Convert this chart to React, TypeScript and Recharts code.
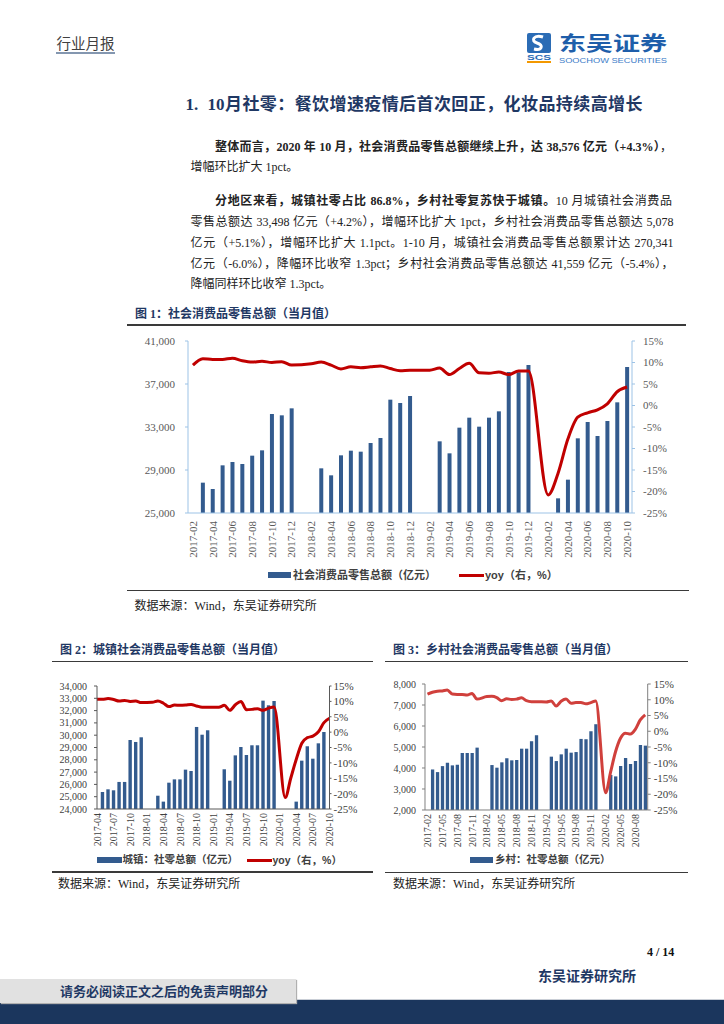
import React from "react";
import { ComposedChart, Bar, Line, XAxis, YAxis } from "recharts";

// ---------- data ----------
const months = [
  "2017-02","2017-03","2017-04","2017-05","2017-06","2017-07","2017-08","2017-09","2017-10","2017-11","2017-12",
  "2018-01","2018-02","2018-03","2018-04","2018-05","2018-06","2018-07","2018-08","2018-09","2018-10","2018-11","2018-12",
  "2019-01","2019-02","2019-03","2019-04","2019-05","2019-06","2019-07","2019-08","2019-09","2019-10","2019-11","2019-12",
  "2020-01","2020-02","2020-03","2020-04","2020-05","2020-06","2020-07","2020-08","2020-09","2020-10",
];
const retailTotal = [
  null, 27822, 27233, 29434, 29744, 29558, 30333, 30829, 34209, 34085, 34736,
  null, null, 29155, 28504, 30364, 30798, 30705, 31512, 31977, 35543, 35233, 35884,
  null, null, 31667, 30550, 32938, 33868, 33031, 33868, 34457, 38116, 38094, 38767,
  null, null, 26364, 28101, 31946, 33465, 32163, 33558, 35295, 38581,
];
const retailYoy = [
  9.4, 10.9, 10.7, 10.7, 11.0, 10.4, 10.1, 10.3, 10.0, 10.2, 9.4,
  null, 9.7, 10.1, 9.4, 8.5, 9.0, 8.8, 9.0, 9.2, 8.6, 8.1, 8.2,
  null, 8.2, 8.7, 7.2, 8.6, 9.8, 7.6, 7.5, 7.8, 7.2, 8.0, 8.0,
  null, -20.8, -15.8, -7.8, -2.7, -1.7, -1.0, 0.4, 3.2, 4.3,
];

const urbanMonths = [
  "2017-04","2017-05","2017-06","2017-07","2017-08","2017-09","2017-10","2017-11","2017-12",
  "2018-01","2018-02","2018-03","2018-04","2018-05","2018-06","2018-07","2018-08","2018-09","2018-10","2018-11","2018-12",
  "2019-01","2019-02","2019-03","2019-04","2019-05","2019-06","2019-07","2019-08","2019-09","2019-10","2019-11","2019-12",
  "2020-01","2020-02","2020-03","2020-04","2020-05","2020-06","2020-07","2020-08","2020-09","2020-10",
];
const urbanTotal = [
  null, 25380, 25600, 25520, 26200, 26200, 29610, 29450, 29830,
  null, null, 25080, 24600, 26140, 26410, 26410, 27200, 27090, 30670, 30040, 30400,
  null, null, 27230, 26300, 28360, 29040, 28390, 29180, 29180, 32810, 32430, 32780,
  null, null, null, 24600, 27930, 29100, 28090, 29340, 30260, null,
];
const urbanYoy = [
  10.7, 10.7, 10.9, 10.6, 10.1, 10.3, 10.0, 10.1, 9.6,
  null, 9.7, 10.1, 9.4, 8.3, 8.8, 8.7, 8.8, 9.0, 8.5, 8.1, 8.1,
  null, 8.1, 8.7, 7.1, 8.9, 10.0, 7.3, 7.4, 7.6, 7.1, 7.8, 8.2,
  null, -21.3, -15.0, -8.8, -3.6, -1.8, -1.3, 0.1, 3.1, 4.5,
];
const urbanTickIdx = [0, 3, 6, 9, 12, 15, 18, 21, 24, 27, 30, 33, 36, 39, 42];

const ruralTotal = [
  null, 3930, 3805, 4090, 4250, 4125, 4155, 4715, 4715, 4715, 4970,
  null, null, 4140, 4015, 4270, 4460, 4365, 4380, 4920, 4920, 5275, 5560,
  null, null, 4540, 4330, 4650, 4920, 4730, 4760, 5385, 5370, 5750, 6085,
  null, null, 3670, 3600, 4095, 4475, 4190, 4330, 5095, 5065,
];
const ruralYoy = [
  11.8, 12.4, 12.7, 12.8, 13.1, 11.8, 11.7, 11.7, 11.5, 12.0, 10.2,
  null, 11.0, 11.1, 10.7, 9.7, 10.3, 10.1, 10.2, 10.6, 9.7, 9.4, 9.4,
  null, 9.3, 9.6, 8.0, 9.5, 10.2, 8.9, 9.1, 9.1, 8.7, 9.1, 9.6,
  null, -19.5, -13.0, -6.5, -2.2, -0.6, -0.9, 0.6, 3.6, 5.2,
];

const retailLeftTicks = [25000, 29000, 33000, 37000, 41000];
const urbanLeftTicks = [24000, 25000, 26000, 27000, 28000, 29000, 30000, 31000, 32000, 33000, 34000];
const ruralLeftTicks = [2000, 3000, 4000, 5000, 6000, 7000, 8000];
const yoyTicks = [-25, -20, -15, -10, -5, 0, 5, 10, 15];

const retailData = months.map((m, i) => ({ m, v: retailTotal[i], y: retailYoy[i] }));
const urbanData = urbanMonths.map((m, i) => ({ idx: i, m, v: urbanTotal[i], y: urbanYoy[i] }));
const ruralData = months.map((m, i) => ({ m, v: ruralTotal[i], y: ruralYoy[i] }));

// ---------- styles ----------
const SERIF = "'Liberation Serif','Times New Roman','Noto Sans CJK SC',serif";
const CJK = "'Liberation Serif','Noto Sans CJK SC',sans-serif";
const SANS = "'Liberation Sans','Noto Sans CJK SC',sans-serif";
const NAVY = "#1F3864";
const BAR = "#335B8E";
const RED = "#C00000";
const RED3 = "#D0403C";
const fmtK = (v: number) => v.toLocaleString("en-US");
const fmtP = (v: number) => `${v}%`;

function RotTick(props: any) {
  const { x, y, payload, fontSize, fill, fmt } = props;
  const label = fmt ? fmt(payload.value) : payload.value;
  return (
    <text
      x={x}
      y={y}
      dy="0.35em"
      textAnchor="end"
      transform={`rotate(-90 ${x} ${y})`}
      fontFamily={SERIF}
      fontSize={fontSize}
      fill={fill}
    >
      {label}
    </text>
  );
}

function Abs({ left, top, children, style }: any) {
  return <div style={{ position: "absolute", left, top, ...style }}>{children}</div>;
}

function TLine({ cy, left, width, size = 12, justify = false, children, color = "#222", weight = 400, font = CJK }: any) {
  return (
    <div
      style={{
        position: "absolute",
        left,
        top: cy - size * 0.75,
        width,
        fontSize: size,
        lineHeight: `${size * 1.5}px`,
        whiteSpace: "nowrap",
        textAlign: justify ? "justify" : "left",
        textAlignLast: justify ? "justify" : "left",
        fontFamily: font,
        color,
        fontWeight: weight,
      } as any}
    >
      {children}
    </div>
  );
}

function Rule({ x1, x2, y, h = 1.5, color = "#3A3A3A" }: any) {
  return <div style={{ position: "absolute", left: x1, top: y - h / 2, width: x2 - x1, height: h, background: color }} />;
}

function LegendBar({ x1, x2, cy, h = 6, color = BAR }: any) {
  return <div style={{ position: "absolute", left: x1, top: cy - h / 2, width: x2 - x1, height: h, background: color }} />;
}

// ---------- charts ----------
function Chart1() {
  const tickStyle = { fontFamily: SERIF, fontSize: 11, fill: "#595959" };
  const ax = "#9DC3E6";
  return (
    <Abs left={120} top={330}>
      <ComposedChart width={562} height={233} data={retailData} margin={{ top: 11, right: 0, bottom: 0, left: 0 }}>
        <XAxis
          dataKey="m"
          interval={1}
          height={50}
          tickSize={0}
          tickMargin={8}
          axisLine={{ stroke: ax }}
          tickLine={false}
          tick={(p: any) => <RotTick {...p} fontSize={11} fill="#595959" />}
        />
        <YAxis
          yAxisId="l"
          width={68}
          domain={[25000, 41000]}
          ticks={retailLeftTicks}
          interval={0}
          tickFormatter={fmtK}
          axisLine={{ stroke: ax }}
          tickLine={{ stroke: ax }}
          tickSize={3}
          tickMargin={10}
          tick={tickStyle}
        />
        <YAxis
          yAxisId="r"
          orientation="right"
          width={50}
          domain={[-25, 15]}
          ticks={yoyTicks}
          interval={0}
          tickFormatter={fmtP}
          axisLine={{ stroke: ax }}
          tickLine={{ stroke: ax }}
          tickSize={3}
          tickMargin={8}
          tick={tickStyle}
        />
        <Bar yAxisId="l" dataKey="v" fill={BAR} barSize={4} isAnimationActive={false} />
        <Line yAxisId="r" dataKey="y" type="monotone" stroke={RED} strokeWidth={3} dot={false} connectNulls isAnimationActive={false} />
      </ComposedChart>
    </Abs>
  );
}

function Chart2() {
  const tickStyle = { fontFamily: SERIF, fontSize: 10, fill: "#404040" };
  const ax = "#595959";
  return (
    <Abs left={50} top={675}>
      <ComposedChart width={320} height={179} data={urbanData} margin={{ top: 11, right: 0, bottom: 0, left: 0 }}>
        <XAxis
          dataKey="idx"
          type="number"
          domain={[0, 42]}
          ticks={urbanTickIdx}
          interval={0}
          height={45}
          tickSize={0}
          tickMargin={4}
          axisLine={{ stroke: ax }}
          tickLine={false}
          tick={(p: any) => <RotTick {...p} fontSize={10} fill="#404040" fmt={(v: number) => urbanMonths[v]} />}
        />
        <YAxis
          yAxisId="l"
          width={47}
          domain={[24000, 34000]}
          ticks={urbanLeftTicks}
          interval={0}
          tickFormatter={fmtK}
          axisLine={{ stroke: ax }}
          tickLine={{ stroke: ax }}
          tickSize={3}
          tickMargin={7}
          tick={tickStyle}
        />
        <YAxis
          yAxisId="r"
          orientation="right"
          width={40.5}
          domain={[-25, 15]}
          ticks={yoyTicks}
          interval={0}
          tickFormatter={fmtP}
          axisLine={{ stroke: ax }}
          tickLine={{ stroke: ax }}
          tickSize={2}
          tickMargin={2}
          tick={{ ...tickStyle, fontSize: 11 }}
        />
        <Bar yAxisId="l" dataKey="v" fill={BAR} barSize={3.4} isAnimationActive={false} />
        <Line yAxisId="r" dataKey="y" type="monotone" stroke={RED} strokeWidth={3} dot={false} connectNulls isAnimationActive={false} />
      </ComposedChart>
    </Abs>
  );
}

function Chart3() {
  const tickStyle = { fontFamily: SERIF, fontSize: 10, fill: "#404040" };
  const ax = "#7F7F7F";
  return (
    <Abs left={380} top={674}>
      <ComposedChart width={317.7} height={181} data={ruralData} margin={{ top: 10, right: 0, bottom: 0, left: 0 }}>
        <XAxis
          dataKey="m"
          interval={2}
          height={45}
          tickSize={0}
          tickMargin={4}
          axisLine={{ stroke: ax }}
          tickLine={false}
          tick={(p: any) => <RotTick {...p} fontSize={10} fill="#404040" />}
        />
        <YAxis
          yAxisId="l"
          width={45}
          domain={[2000, 8000]}
          ticks={ruralLeftTicks}
          interval={0}
          tickFormatter={fmtK}
          axisLine={{ stroke: ax }}
          tickLine={{ stroke: ax }}
          tickSize={3}
          tickMargin={6}
          tick={tickStyle}
        />
        <YAxis
          yAxisId="r"
          orientation="right"
          width={50}
          domain={[-25, 15]}
          ticks={yoyTicks}
          interval={0}
          tickFormatter={fmtP}
          axisLine={{ stroke: ax }}
          tickLine={{ stroke: ax }}
          tickSize={3}
          tickMargin={3}
          tick={{ ...tickStyle, fontSize: 11 }}
        />
        <Bar yAxisId="l" dataKey="v" fill={BAR} barSize={3.3} isAnimationActive={false} />
        <Line yAxisId="r" dataKey="y" type="monotone" stroke={RED3} strokeWidth={3} dot={false} connectNulls isAnimationActive={false} />
      </ComposedChart>
    </Abs>
  );
}

function Logo() {
  return (
    <svg style={{ position: "absolute", left: 524, top: 28 }} width={150} height={40}>
      <rect x={3} y={5} width={24} height={20} rx={2} fill="#2B6CB5" />
      <path d="M19 9 C 10 6, 6 13, 13 15 C 20 17, 18 23, 10 21" stroke="#fff" strokeWidth={3} fill="none" />
      <text x={15} y={31.5} textAnchor="middle" fontFamily={SANS} fontWeight={700} fontSize={7} fill="#2B6CB5" textLength={24} lengthAdjust="spacingAndGlyphs">SCS</text>
      <rect x={3} y={33} width={24} height={2} fill="#F39800" />
      <text x={35} y={22.5} fontFamily={SANS} fontWeight={700} fontSize={20} fill="#1E5EAA" textLength={108} lengthAdjust="spacingAndGlyphs">东吴证券</text>
      <text x={35} y={34.5} fontFamily={SANS} fontSize={8} fill="#3B7BC8" textLength={108} lengthAdjust="spacingAndGlyphs">SOOCHOW SECURITIES</text>
    </svg>
  );
}

export default function App() {
  const legendText = { fontFamily: CJK, fontWeight: 700, color: "#404040", whiteSpace: "nowrap" } as any;
  return (
    <div style={{ position: "absolute", left: 0, top: 0, width: 724, height: 1024, background: "#fff", overflow: "hidden" }}>
      {/* header */}
      <TLine cy={45} left={56.6} size={14.5} color="#404040">行业月报</TLine>
      <Rule x1={56} x2={115} y={52.5} h={2} color="#8497B0" />
      <Logo />

      {/* section title */}
      <TLine cy={105} left={185.5} width={457} size={17} justify color={NAVY} weight={700}>
        1.&nbsp;&nbsp;10月社零：餐饮增速疫情后首次回正，化妆品持续高增长
      </TLine>

      {/* paragraph 1 */}
      <TLine cy={146.7} left={215} width={457} size={12} justify>
        <b>整体而言，2020 年 10 月，社会消费品零售总额继续上升，达 38,576 亿元（+4.3%）</b>，
      </TLine>
      <TLine cy={166.5} left={190.6} size={12}>增幅环比扩大 1pct。</TLine>

      {/* paragraph 2 */}
      <TLine cy={201.3} left={215} width={457} size={12} justify>
        <b>分地区来看，城镇社零占比 86.8%，乡村社零复苏快于城镇。</b>10 月城镇社会消费品
      </TLine>
      <TLine cy={222.3} left={190.6} width={483} size={12} justify>
        零售总额达 33,498 亿元（+4.2%），增幅环比扩大 1pct，乡村社会消费品零售总额达 5,078
      </TLine>
      <TLine cy={242.8} left={190.6} width={483} size={12} justify>
        亿元（+5.1%），增幅环比扩大 1.1pct。1-10 月，城镇社会消费品零售总额累计达 270,341
      </TLine>
      <TLine cy={263.5} left={190.6} width={483} size={12} justify>
        亿元（-6.0%），降幅环比收窄 1.3pct；乡村社会消费品零售总额达 41,559 亿元（-5.4%），
      </TLine>
      <TLine cy={284.2} left={190.6} size={12}>降幅同样环比收窄 1.3pct。</TLine>

      {/* figure 1 */}
      <TLine cy={314} left={135} size={12} color={NAVY} weight={700}>图 1：社会消费品零售总额（当月值）</TLine>
      <Rule x1={127} x2={686} y={325} />
      <Chart1 />
      <LegendBar x1={268} x2={291} cy={575} />
      <Abs left={293} top={575 - 8} style={{ ...legendText, fontSize: 11, lineHeight: "16px" }}>社会消费品零售总额（亿元）</Abs>
      <LegendBar x1={458.5} x2={483.5} cy={575} h={3} color={RED} />
      <Abs left={485} top={575 - 8} style={{ ...legendText, fontSize: 11, lineHeight: "16px", fontFamily: SANS }}>yoy（右，%）</Abs>
      <Rule x1={127} x2={688.5} y={590.7} />
      <TLine cy={606} left={134.6} size={12} color="#222">数据来源：Wind，东吴证券研究所</TLine>

      {/* figure 2 */}
      <TLine cy={650} left={60} size={12} color={NAVY} weight={700}>图 2：城镇社会消费品零售总额（当月值）</TLine>
      <Rule x1={52} x2={372.7} y={661.7} />
      <Chart2 />
      <LegendBar x1={96.7} x2={121.7} cy={860} />
      <Abs left={122.5} top={860 - 8} style={{ ...legendText, fontSize: 10.5, lineHeight: "16px" }}>城镇：社零总额（亿元）</Abs>
      <LegendBar x1={246.7} x2={271.7} cy={860} h={3} color={RED} />
      <Abs left={272.5} top={860 - 8} style={{ ...legendText, fontSize: 10.5, lineHeight: "16px", fontFamily: SANS }}>yoy（右，%）</Abs>
      <Rule x1={52} x2={372.7} y={872} />
      <TLine cy={883.5} left={58} size={12} color="#222">数据来源：Wind，东吴证券研究所</TLine>

      {/* figure 3 */}
      <TLine cy={650} left={393} size={12} color={NAVY} weight={700}>图 3：乡村社会消费品零售总额（当月值）</TLine>
      <Rule x1={385} x2={688} y={661.7} />
      <Chart3 />
      <LegendBar x1={470} x2={493.3} cy={860} />
      <Abs left={495} top={860 - 8} style={{ ...legendText, fontSize: 10.5, lineHeight: "16px" }}>乡村：社零总额（亿元）</Abs>
      <Rule x1={385} x2={688} y={872.7} />
      <TLine cy={883.5} left={393} size={12} color="#222">数据来源：Wind，东吴证券研究所</TLine>

      {/* footer */}
      <TLine cy={952} left={647} size={12} color="#111" weight={700} font={SERIF}>4 / 14</TLine>
      <TLine cy={976.7} left={538} size={14} color={NAVY} weight={700}>东吴证券研究所</TLine>
      <div style={{ position: "absolute", left: 0, top: 1000, width: 724, height: 24, background: "#1B365D" }} />
      <div style={{ position: "absolute", left: 296, top: 998.5, width: 428, height: 1.5, background: "#C9CED6" }} />
      <div style={{ position: "absolute", left: 0, top: 979, width: 296, height: 24, background: "#E1E1E1", boxShadow: "1px 1px 1px #B0B0B0" }} />
      <TLine cy={991.7} left={60} size={13} color={NAVY} weight={700}>请务必阅读正文之后的免责声明部分</TLine>
    </div>
  );
}
